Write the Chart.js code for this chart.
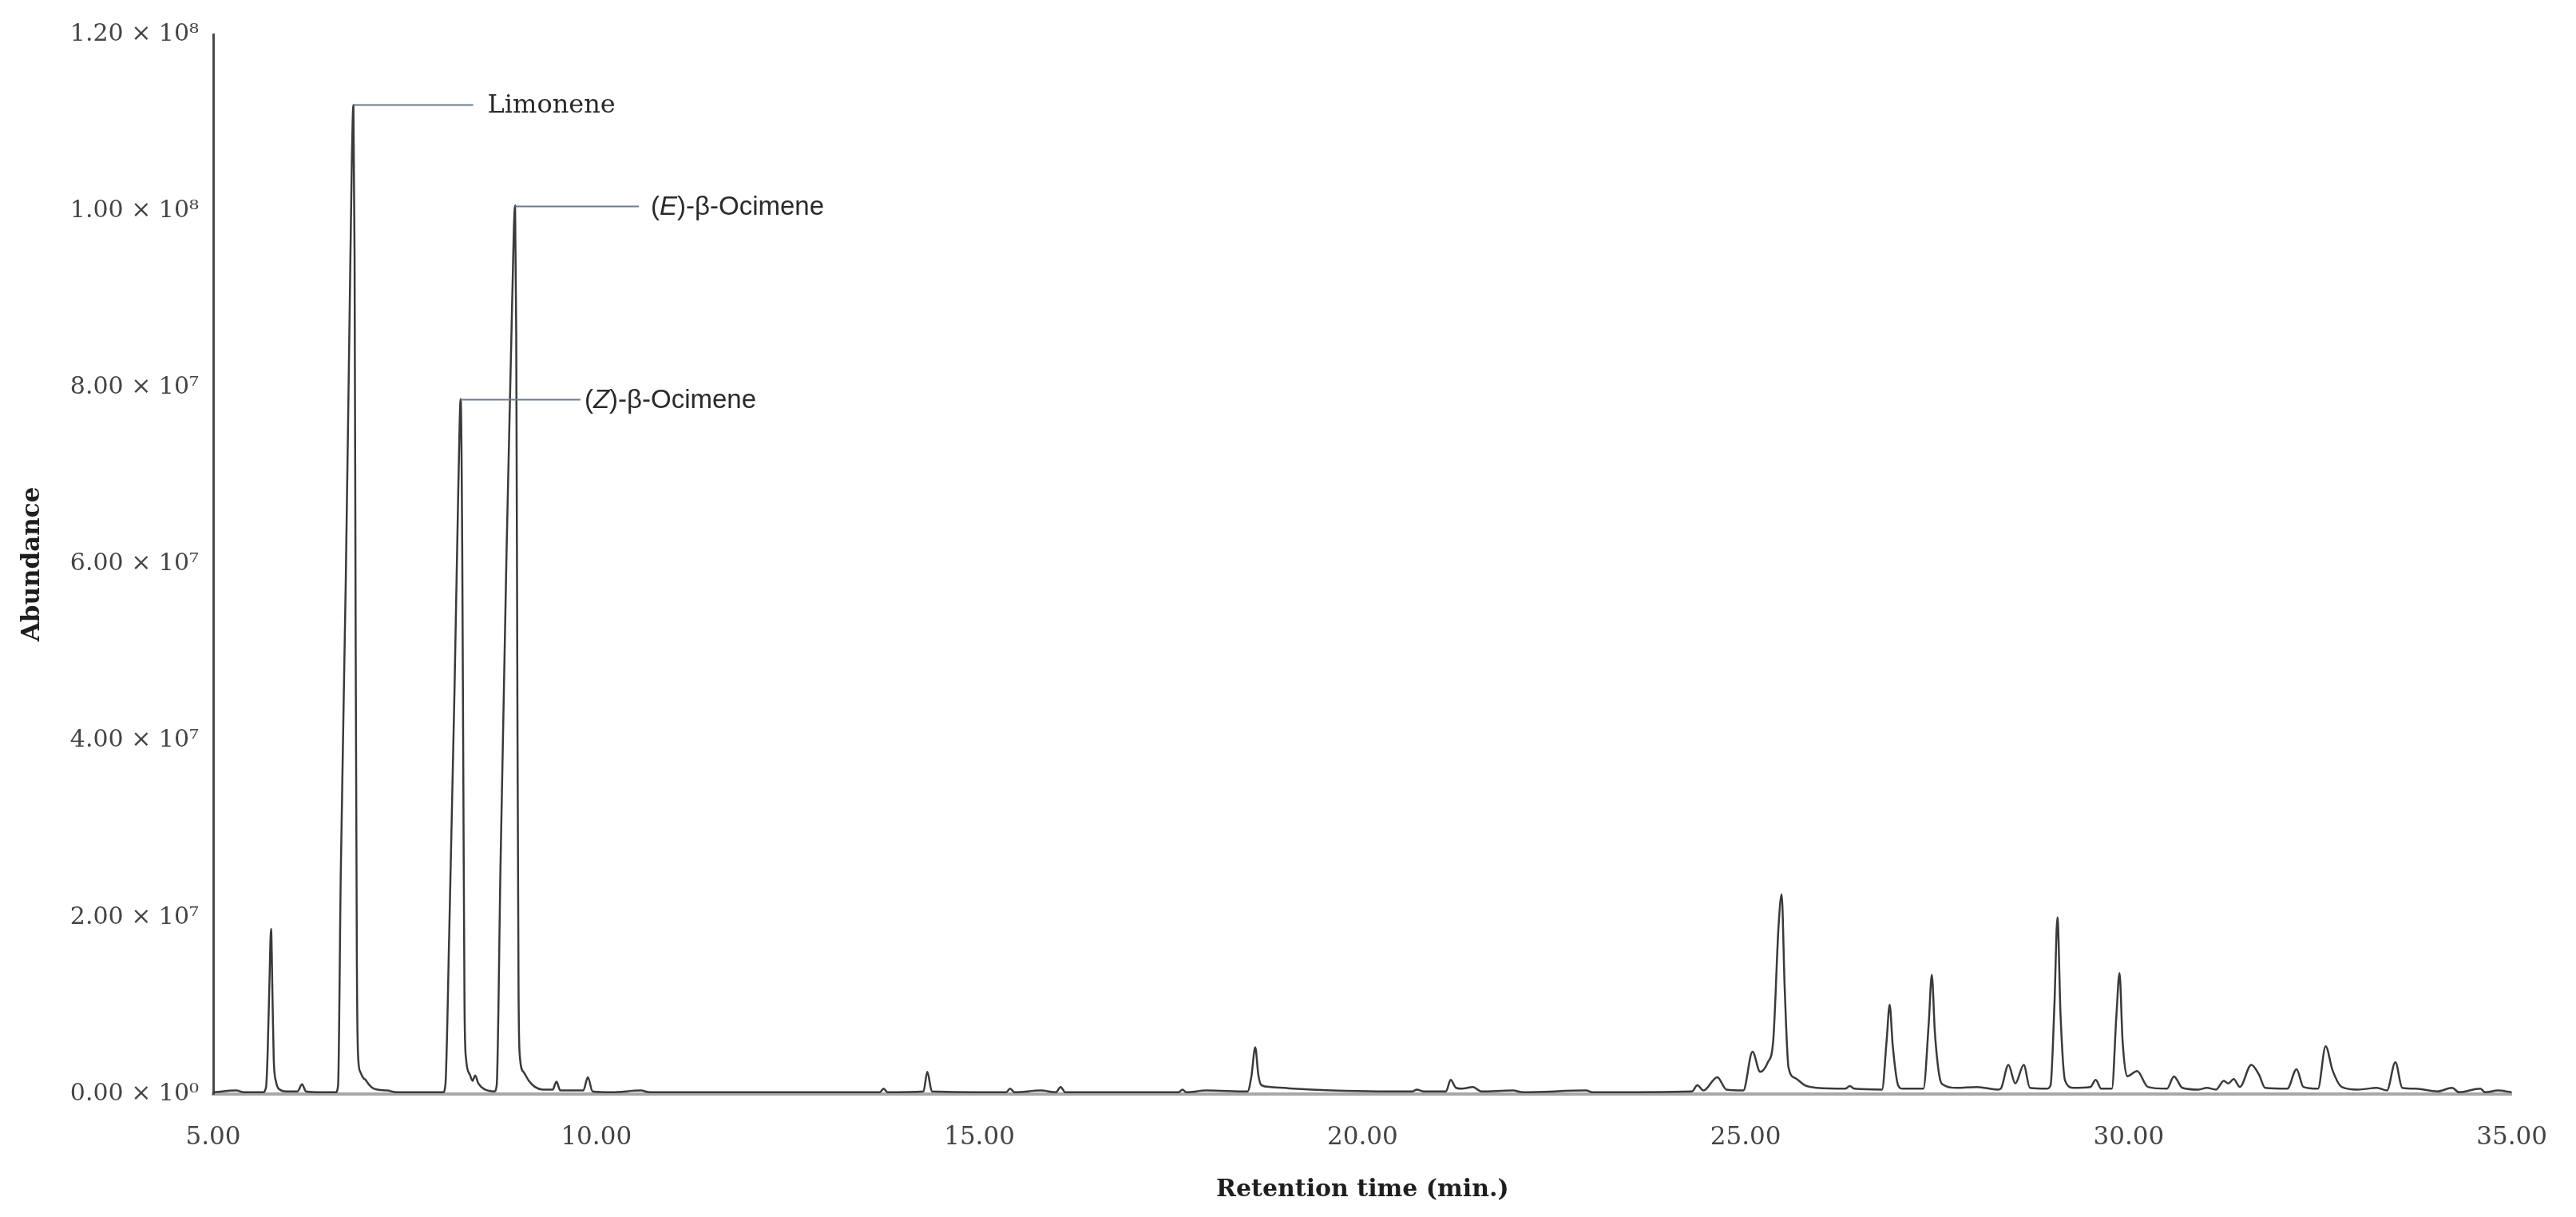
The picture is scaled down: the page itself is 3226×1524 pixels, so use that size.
<!DOCTYPE html>
<html>
<head>
<meta charset="utf-8">
<script src="https://cdn.jsdelivr.net/npm/chart.js@4"></script>
<style>html,body{margin:0;padding:0;background:#fff}canvas{display:block}</style>
</head>
<body>
<canvas id="c" width="3226" height="1524"></canvas>
<script>
// Retention time (min.)
const retentionTime = [
  5.00, 5.30, 5.40, 5.65, 5.69, 5.71, 5.735, 5.755, 5.775, 5.79, 5.82, 5.87, 5.95,
  6.10, 6.16, 6.21, 6.40, 6.60, 6.63, 6.665, 6.73, 6.78, 6.81, 6.83, 6.845, 6.86, 6.875, 6.89,
  6.92, 6.96, 6.99, 7.03, 7.10, 7.27, 7.40, 8.00, 8.03, 8.08, 8.15, 8.20, 8.23, 8.25, 8.265,
  8.28, 8.30, 8.35, 8.385, 8.42, 8.46, 8.55, 8.67, 8.70, 8.75, 8.83, 8.90, 8.94, 8.955, 8.97,
  8.985, 9.00, 9.05, 9.12, 9.20, 9.30, 9.43, 9.48, 9.53, 9.83, 9.89, 9.95, 10.20, 10.58, 10.70,
  13.70, 13.75, 13.80, 14.27, 14.32, 14.38, 15.35, 15.40, 15.46, 15.80, 16.00, 16.06, 16.12,
  17.60, 17.65, 17.70, 17.96, 18.50, 18.55, 18.60, 18.64, 18.68, 18.80, 19.10, 19.60, 20.20,
  20.65, 20.71, 20.80, 21.09, 21.15, 21.22, 21.30, 21.44, 21.55, 21.96, 22.10, 22.92, 23.00,
  24.30, 24.37, 24.45, 24.63, 24.75, 24.97, 25.09, 25.19, 25.29, 25.36, 25.43, 25.47, 25.51,
  25.56, 25.65, 25.77, 25.93, 26.30, 26.36, 26.42, 26.78, 26.84, 26.88, 26.92, 26.99, 27.05,
  27.32, 27.39, 27.43, 27.47, 27.53, 27.59, 27.75, 28.02, 28.29, 28.33, 28.43, 28.52, 28.63,
  28.71, 28.93, 28.98, 29.03, 29.07, 29.11, 29.17, 29.28, 29.50, 29.57, 29.64, 29.78, 29.84,
  29.88, 29.92, 29.98, 30.11, 30.25, 30.50, 30.59, 30.70, 30.91, 31.02, 31.14, 31.24, 31.30,
  31.37, 31.45, 31.60, 31.70, 31.78, 32.07, 32.19, 32.28, 32.47, 32.57, 32.66, 32.78, 32.99,
  33.24, 33.37, 33.48, 33.57, 33.74, 34.03, 34.22, 34.31, 34.59, 34.65, 34.82, 35.00
];
// Abundance
const abundance = [
  2e5, 4e5, 2e5, 2e5, 8e5, 4.5e6, 1.3e7, 1.87e7, 1.05e7, 4.0e6, 1.4e6, 5e5, 3e5,
  3e5, 1.1e6, 3e5, 2e5, 2e5, 1.0e6, 2.5e7, 5.8e7, 8.8e7, 1.06e8, 1.12e8, 9.5e7, 5.0e7, 1.5e7, 4.5e6,
  2.5e6, 1.8e6, 1.6e6, 1.1e6, 6e5, 4e5, 2e5, 2e5, 1.0e6, 1.8e7, 4.6e7, 6.9e7, 7.87e7, 6.2e7, 3.5e7,
  1.0e7, 4.0e6, 2.2e6, 1.5e6, 2.1e6, 1.2e6, 5e5, 3e5, 1.0e6, 2.6e7, 6.2e7, 8.9e7, 1.006e8, 8.6e7, 4.5e7,
  1.2e7, 4.5e6, 2.5e6, 1.5e6, 8e5, 5e5, 5e5, 1.4e6, 4e5, 4e5, 1.9e6, 3e5, 2e5, 4e5, 2e5,
  2e5, 6e5, 2e5, 3e5, 2.5e6, 3e5, 2e5, 6e5, 2e5, 4e5, 2e5, 8e5, 2e5,
  2e5, 5e5, 2e5, 4e5, 3e5, 2.0e6, 5.3e6, 2.2e6, 1.0e6, 8e5, 6e5, 4e5, 3e5,
  3e5, 5e5, 3e5, 3e5, 1.6e6, 7e5, 6e5, 8e5, 3e5, 4e5, 2e5, 4e5, 2e5,
  3e5, 1.0e6, 4e5, 1.9e6, 5e5, 4e5, 4.8e6, 2.5e6, 3.6e6, 6.0e6, 1.9e7, 2.26e7, 1.2e7,
  3.0e6, 1.8e6, 1.0e6, 7e5, 6e5, 9e5, 6e5, 5e5, 6.0e6, 1.01e7, 5.5e6, 1.0e6, 6e5,
  6e5, 8.0e6, 1.35e7, 7.0e6, 2.0e6, 1.0e6, 7e5, 8e5, 5e5, 6e5, 3.3e6, 1.2e6, 3.3e6,
  7e5, 6e5, 1.0e6, 1.0e7, 2.0e7, 9.0e6, 1.5e6, 7e5, 8e5, 1.6e6, 6e5, 6e5, 9.0e6,
  1.37e7, 6.0e6, 2.0e6, 2.6e6, 8e5, 6e5, 2.0e6, 7e5, 5e5, 7e5, 5e5, 1.5e6, 1.2e6,
  1.7e6, 8e5, 3.3e6, 2.2e6, 7e5, 6e5, 2.8e6, 8e5, 6e5, 5.4e6, 2.7e6, 8e5, 5e5,
  7e5, 4e5, 3.6e6, 7e5, 6e5, 3e5, 7e5, 2e5, 6e5, 2e5, 4e5, 2e5
];
const xTickValues = [5, 10, 15, 20, 25, 30, 35];
const xTickLabels = ['5.00', '10.00', '15.00', '20.00', '25.00', '30.00', '35.00'];
const yTickValues = [0, 2e7, 4e7, 6e7, 8e7, 1e8, 1.2e8];
const yTickLabels = ['0.00 × 10⁰', '2.00 × 10⁷', '4.00 × 10⁷', '6.00 × 10⁷', '8.00 × 10⁷', '1.00 × 10⁸', '1.20 × 10⁸'];
// Peak annotations
const peakNames = ['Limonene', '(<i>Z</i>)-β-Ocimene', '(<i>E</i>)-β-Ocimene'];
const peakTimes = [6.83, 8.23, 8.94];
const peakHeights = [1.12e8, 7.87e7, 1.006e8];

const labelStyles = [
  {family: '"DejaVu Serif", serif', size: 32, line: 150, gap: 18},
  {family: '"Liberation Sans", Arial, sans-serif', size: 33, line: 150, gap: 5},
  {family: '"Liberation Sans", Arial, sans-serif', size: 33, line: 155, gap: 15}
];

function parseSegments(s) {
  const out = [];
  const re = /<i>(.*?)<\/i>/g;
  let last = 0, m;
  while ((m = re.exec(s)) !== null) {
    if (m.index > last) out.push({text: s.slice(last, m.index), italic: false});
    out.push({text: m[1], italic: true});
    last = re.lastIndex;
  }
  if (last < s.length) out.push({text: s.slice(last), italic: false});
  return out;
}

const peakLabelPlugin = {
  id: 'peakLabels',
  afterDatasetsDraw(chart) {
    const {ctx, scales: {x, y}} = chart;
    ctx.save();
    peakTimes.forEach((t, i) => {
      const st = labelStyles[i];
      const px = x.getPixelForValue(t);
      const py = Math.round(y.getPixelForValue(peakHeights[i])) + 0.5;
      ctx.strokeStyle = '#6c7c8c';
      ctx.lineWidth = 2;
      ctx.beginPath();
      ctx.moveTo(px, py);
      ctx.lineTo(px + st.line, py);
      ctx.stroke();
      let tx = px + st.line + st.gap;
      ctx.textBaseline = 'middle';
      ctx.textAlign = 'left';
      ctx.fillStyle = '#2a2a2a';
      parseSegments(peakNames[i]).forEach(seg => {
        ctx.font = (seg.italic ? 'italic ' : '') + st.size + 'px ' + st.family;
        ctx.fillText(seg.text, tx, py + 1);
        tx += ctx.measureText(seg.text).width;
      });
    });
    ctx.restore();
  }
};

new Chart(document.getElementById('c'), {
  type: 'line',
  data: {
    datasets: [{
      data: retentionTime.map((t, i) => ({x: t, y: abundance[i]})),
      borderColor: '#3a3a3a',
      borderWidth: 2.5,
      pointRadius: 0,
      fill: false,
      cubicInterpolationMode: 'monotone'
    }]
  },
  options: {
    responsive: false,
    animation: false,
    devicePixelRatio: 1,
    layout: {padding: {top: 43, right: 71, left: 0, bottom: 0}},
    plugins: {legend: {display: false}, tooltip: {enabled: false}},
    scales: {
      x: {
        type: 'linear', min: 5, max: 35,
        afterBuildTicks: s => { s.ticks = xTickValues.map(v => ({value: v})); },
        afterFit: s => { s.height = 154; },
        grid: {display: false, drawTicks: false},
        border: {display: true, color: '#a8a8a8', width: 4},
        ticks: {
          padding: 36, color: '#444', autoSkip: false, maxRotation: 0,
          font: {family: '"DejaVu Serif", serif', size: 31},
          callback: (v, i) => xTickLabels[i]
        },
        title: {
          display: true, text: 'Retention time (min.)', color: '#1e1e1e',
          font: {family: '"DejaVu Serif", serif', size: 30, weight: 'bold'},
          padding: {top: 0, bottom: 16}
        }
      },
      y: {
        type: 'linear', min: 0, max: 1.2e8,
        afterBuildTicks: s => { s.ticks = yTickValues.map(v => ({value: v})); },
        afterFit: s => { s.width = 267; },
        grid: {display: false, drawTicks: false},
        border: {display: true, color: '#4a4a4a', width: 3},
        ticks: {
          padding: 18, color: '#444',
          font: {family: '"DejaVu Serif", serif', size: 30},
          callback: (v, i) => yTickLabels[i]
        },
        title: {
          display: true, text: 'Abundance', color: '#1e1e1e',
          font: {family: '"DejaVu Serif", serif', size: 31, weight: 'bold'},
          padding: {top: 22, bottom: 0}
        }
      }
    }
  },
  plugins: [peakLabelPlugin]
});
</script>
</body>
</html>
